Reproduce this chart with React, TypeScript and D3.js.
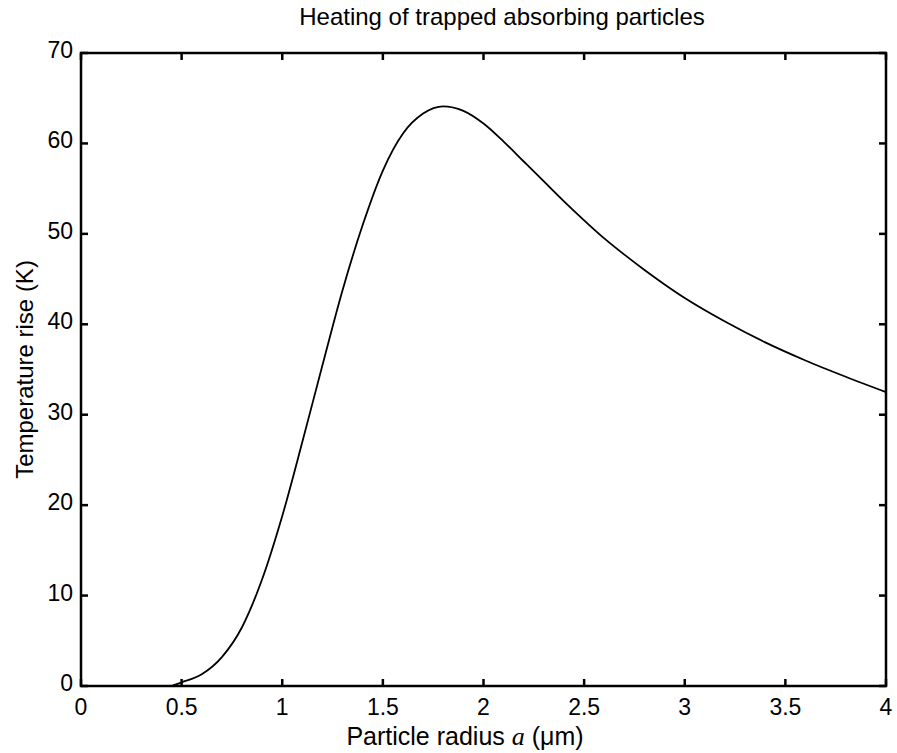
import React from "react";
import * as d3 from "d3";

const radius = [0.45, 0.5, 0.6, 0.7, 0.8, 0.9, 1.0, 1.1, 1.2, 1.3, 1.4, 1.5, 1.6, 1.7, 1.8, 1.9, 2.0, 2.1, 2.2, 2.3, 2.4, 2.5, 2.6, 2.7, 2.8, 2.9, 3.0, 3.2, 3.4, 3.6, 3.8, 4.0];
const tempRise = [0, 0.4, 1.3, 3.2, 6.5, 11.8, 18.8, 27.0, 35.5, 43.8, 51.0, 57.0, 61.1, 63.3, 64.1, 63.6, 62.2, 60.2, 58.0, 55.8, 53.6, 51.5, 49.5, 47.7, 46.0, 44.4, 42.9, 40.3, 38.0, 36.0, 34.2, 32.5];
const xTicks = [0, 0.5, 1, 1.5, 2, 2.5, 3, 3.5, 4];
const xTickLabels = ["0", "0.5", "1", "1.5", "2", "2.5", "3", "3.5", "4"];
const yTicks = [0, 10, 20, 30, 40, 50, 60, 70];
const title = "Heating of trapped absorbing particles";
const yLabel = "Temperature rise (K)";

const W = 897;
const H = 753;
const L = 81, R = 886, T = 53, B = 686;
const FONT = "'Liberation Sans', Arial, Helvetica, sans-serif";

export default function App() {
  const x = d3.scaleLinear().domain([0, 4]).range([L, R]);
  const y = d3.scaleLinear().domain([0, 70]).range([B, T]);
  const pts: [number, number][] = radius.map((r, i) => [r, tempRise[i]]);
  const line = d3
    .line<[number, number]>()
    .x((d) => x(d[0]))
    .y((d) => y(d[1]))
    .curve(d3.curveMonotoneX);
  const tickLen = 7;
  return (
    <svg
      width={W}
      height={H}
      style={{ position: "absolute", left: 0, top: 0, display: "block", background: "#fff" }}
    >
      <rect x={0} y={0} width={W} height={H} fill="#fff" />
      <path d={line(pts) || ""} fill="none" stroke="#000" strokeWidth={1.8} />
      <rect x={L} y={T} width={R - L} height={B - T} fill="none" stroke="#000" strokeWidth={2.5} />
      {xTicks.map((t, i) => (
        <g key={"x" + i}>
          <line x1={x(t)} x2={x(t)} y1={B} y2={B - tickLen} stroke="#000" strokeWidth={2.5} />
          <line x1={x(t)} x2={x(t)} y1={T} y2={T + tickLen} stroke="#000" strokeWidth={2.5} />
          <text x={x(t)} y={715} textAnchor="middle" fontFamily={FONT} fontSize={23} fill="#000">
            {xTickLabels[i]}
          </text>
        </g>
      ))}
      {yTicks.map((t, i) => (
        <g key={"y" + i}>
          <line x1={L} x2={L + tickLen} y1={y(t)} y2={y(t)} stroke="#000" strokeWidth={2.5} />
          <line x1={R} x2={R - tickLen} y1={y(t)} y2={y(t)} stroke="#000" strokeWidth={2.5} />
          <text x={73} y={y(t) + 5} textAnchor="end" fontFamily={FONT} fontSize={23} fill="#000">
            {String(t)}
          </text>
        </g>
      ))}
      <text x={502} y={25} textAnchor="middle" fontFamily={FONT} fontSize={24} fill="#000">
        {title}
      </text>
      <text x={465} y={745} textAnchor="middle" fontFamily={FONT} fontSize={25} fill="#000">
        Particle radius{" "}
        <tspan fontFamily="'Liberation Serif', 'Times New Roman', serif" fontStyle="italic" fontSize={26}>
          a
        </tspan>{" "}
        (μm)
      </text>
      <text
        transform={`translate(33, ${(T + B) / 2}) rotate(-90)`}
        textAnchor="middle"
        fontFamily={FONT}
        fontSize={24}
        fill="#000"
      >
        {yLabel}
      </text>
    </svg>
  );
}
